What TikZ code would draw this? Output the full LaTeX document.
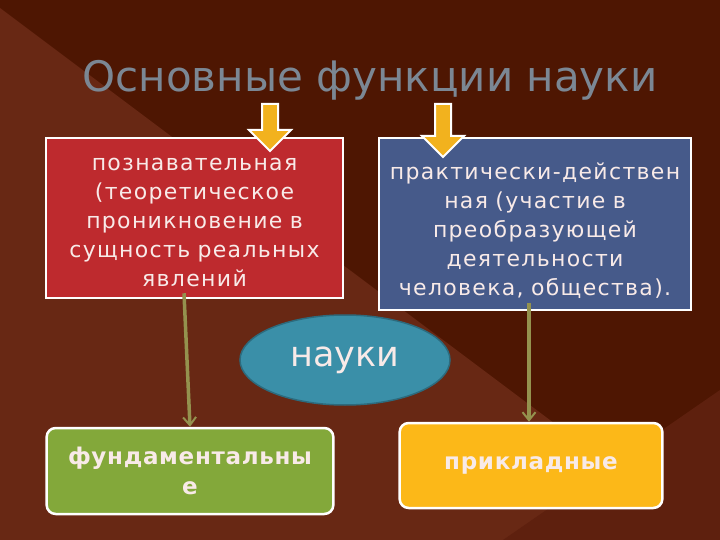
\documentclass[tikz,border=0pt]{standalone}
\usepackage{fontspec}
\setmainfont{DejaVu Sans}
\usepackage{tikz}
\usetikzlibrary{arrows.meta, positioning, shapes.geometric}

\definecolor{bgdark}{RGB}{78,22,2}
\definecolor{bglight}{RGB}{104,40,20}
\definecolor{bgmid}{RGB}{94,32,14}
\definecolor{titlegray}{RGB}{123,135,148}
\definecolor{cogred}{RGB}{190,42,46}
\definecolor{pracblue}{RGB}{70,90,138}
\definecolor{scteal}{RGB}{58,143,168}
\definecolor{fundgreen}{RGB}{131,168,58}
\definecolor{appyellow}{RGB}{252,184,24}
\definecolor{arrowgold}{RGB}{242,178,30}
\definecolor{linkolive}{RGB}{148,146,78}
\definecolor{boxtext}{RGB}{248,234,232}

\newfontfamily\boxfont[LetterSpace=6]{DejaVu Sans}
\newfontfamily\kindfont[LetterSpace=3]{DejaVu Sans}

\tikzset{
    funcbox/.style={draw=white, line width=2.5pt, align=center,
        text=boxtext, font=\boxfont\fontsize{22}{29}\selectfont},
    kindbox/.style={draw=white, line width=2.5pt, rounded corners=9pt,
        align=center, text=boxtext,
        font=\kindfont\bfseries\fontsize{23}{30}\selectfont},
    link/.style={draw=linkolive, line width=3.5pt,
        -{Straight Barb[length=8pt, width=13pt, line width=2pt]}},
    goldarrow/.style={fill=arrowgold, draw=white, line width=2pt, line join=miter}
}

\begin{document}
\begin{tikzpicture}[x=1pt, y=-1pt]

    % BACKGROUND
    \useasboundingbox (0,0) rectangle (720,540);
    \fill[bgdark] (0,0) rectangle (720,540);
    \fill[bglight] (0,8) -- (710,540) -- (0,540) -- cycle;
    \fill[bgmid] (503,540) -- (720,390) -- (720,540) -- cycle;

    % TITLE
    \node[text=titlegray, font=\fontsize{42}{50}\selectfont] (title) at (370,80)
        {Основные функции науки};

    % FUNCTIONS
    \node[funcbox, fill=cogred, minimum width=295, minimum height=160,
          text width=290] (cog) at (194.5,218)
        {\rule{0pt}{21pt}познавательная\\(теоретическое\\проникновение в\\сущность реальных\\явлений};
    \node[funcbox, fill=pracblue, minimum width=310, minimum height=172,
          text width=305] (prac) at (535,224)
        {\rule{0pt}{31pt}практически-действен\\ная (участие в\\преобразующей\\деятельности\\человека, общества).};

    % GOLD ARROWS on top of the boxes
    \foreach \ax/\tip in {270/151, 443/157}{
        \draw[goldarrow] ({\ax-8},104) -- ({\ax+8},104) -- ({\ax+8},{\tip-21})
            -- ({\ax+21},{\tip-21}) -- (\ax,\tip) -- ({\ax-21},{\tip-21})
            -- ({\ax-8},{\tip-21}) -- cycle;
    }

    % SCIENCES
    \node[ellipse, fill=scteal, draw=scteal!75!black, line width=1.5pt,
          minimum width=210, minimum height=90, text=boxtext,
          font=\fontsize{35}{40}\selectfont] (sci) at (345,360) {науки};

    \node[kindbox, fill=fundgreen, minimum width=286, minimum height=86,
          text width=280] (fund) at (190,471) {фундаментальны\\е};
    \node[kindbox, fill=appyellow, minimum width=262, minimum height=85,
          text width=256] (app) at (531,465.5) {прикладные};

    % LINKS
    \draw[link] ([shift={(-10.5,-6)}]cog.south) -- (fund.north);
    \draw[link] ([shift={(-6,-8)}]prac.south) -- ([xshift=-2pt]app.north);

\end{tikzpicture}
\end{document}
